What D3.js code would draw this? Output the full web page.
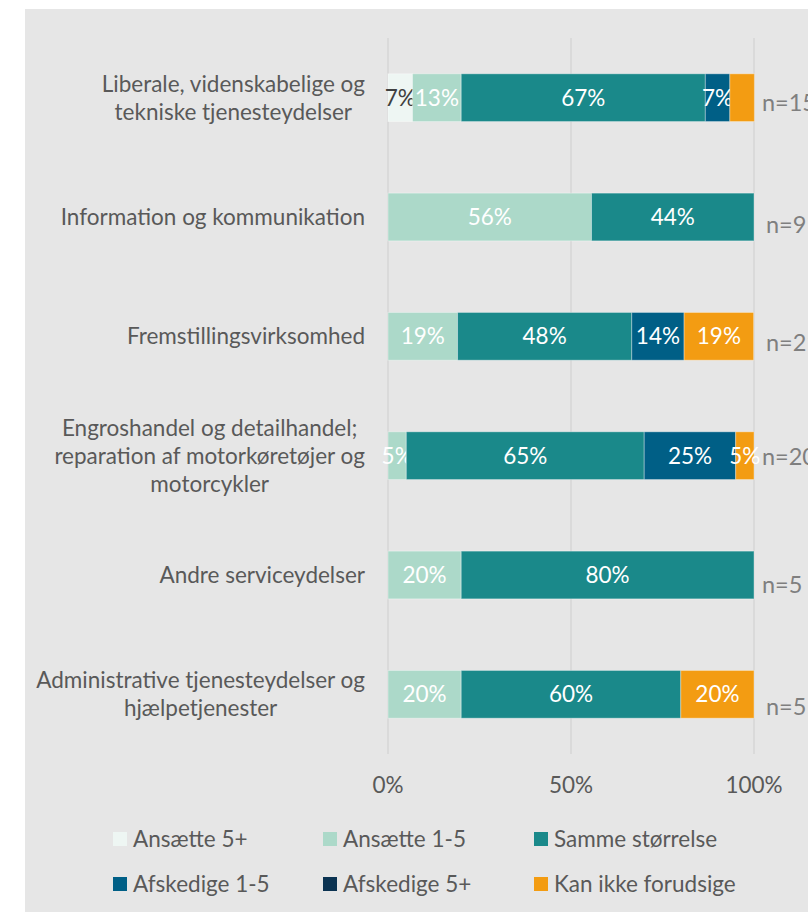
<!DOCTYPE html>
<html>
<head>
<meta charset="utf-8">
<script src="https://cdn.jsdelivr.net/npm/d3@7"></script>
<style>
  html, body { margin: 0; padding: 0; background: #ffffff; }
  svg { display: block; font-family: Lato, "Open Sans", sans-serif; }
</style>
</head>
<body>
<div id="chart"></div>
<script>
// categories (top to bottom), each split into its display lines
const categories = [
    ["Liberale, videnskabelige og", "tekniske tjenesteydelser"],
    ["Information og kommunikation"],
    ["Fremstillingsvirksomhed"],
    ["Engroshandel og detailhandel;", "reparation af motorkøretøjer og", "motorcykler"],
    ["Andre serviceydelser"],
    ["Administrative tjenesteydelser og", "hjælpetjenester"]
];
const nLabels = ["n=15", "n=9", "n=21", "n=20", "n=5", "n=5"];

const seriesNames = ["Ansætte 5+", "Ansætte 1-5", "Samme størrelse", "Afskedige 1-5", "Afskedige 5+", "Kan ikke forudsige"];
const seriesColors = ["#eef6f3", "#acd9c9", "#1a898a", "#005f86", "#0b3352", "#f39c12"];

// percent shares per series, one value per category
const ansaette5 = [6.7, 0, 0, 0, 0, 0];
const ansaette1_5 = [13.3, 55.6, 19.0, 5, 20, 20];
const samme = [66.7, 44.4, 47.6, 65, 80, 60];
const afskedige1_5 = [6.7, 0, 14.3, 25, 0, 0];
const afskedige5 = [0, 0, 0, 0, 0, 0];
const kanIkke = [6.7, 0, 19.0, 5, 0, 20];
const seriesValues = [ansaette5, ansaette1_5, samme, afskedige1_5, afskedige5, kanIkke];

const xTicks = [0, 50, 100];
// data labels that the original leaves out: [category index, series index]
const hiddenLabels = [[0, 5]];

// layout
const W = 808, H = 913;
const bg = {x: 25, y: 9, w: 783, h: 903};
const plot = {left: 388, right: 754, top: 38, bottom: 754};
const nDx = [8, 12, 12, 8, 8, 12];
const nDy = [5, 8, 6, 1, 10, 12];
const fontSize = 22.5;

const svg = d3.select("#chart").append("svg")
    .attr("width", W).attr("height", H);

svg.append("rect")
    .attr("x", bg.x).attr("y", bg.y)
    .attr("width", bg.w).attr("height", bg.h)
    .attr("fill", "#e6e6e6");

const x = d3.scaleLinear().domain([0, 100]).range([plot.left, plot.right]);
const y = d3.scaleBand()
    .domain(d3.range(categories.length))
    .range([plot.top, plot.bottom])
    .paddingInner(0.6)
    .paddingOuter(0.3);

// gridlines
svg.append("g").selectAll("line")
    .data(xTicks)
    .join("line")
    .attr("x1", d => x(d)).attr("x2", d => x(d))
    .attr("y1", plot.top).attr("y2", plot.bottom)
    .attr("stroke", "#d6d6d6")
    .attr("stroke-width", 1.5);

// stack
const rows = categories.map((c, i) => {
    let row = {idx: i};
    seriesNames.forEach((s, j) => row[s] = seriesValues[j][i]);
    return row;
});
const stacked = d3.stack().keys(seriesNames)(rows);

const layers = svg.append("g").selectAll("g")
    .data(stacked)
    .join("g")
    .attr("fill", (d, j) => seriesColors[j]);

layers.selectAll("rect")
    .data(d => d.filter(p => p[1] - p[0] > 0))
    .join("rect")
    .attr("x", p => x(p[0]))
    .attr("y", p => y(p.data.idx))
    .attr("width", p => x(p[1]) - x(p[0]))
    .attr("height", y.bandwidth())
    .attr("stroke", "rgba(255,255,255,0.35)")
    .attr("stroke-width", 1);

// data labels
const isHidden = (i, j) => hiddenLabels.some(h => h[0] === i && h[1] === j);
layers.each(function(layer, j) {
    d3.select(this).selectAll("text")
        .data(layer.filter(p => p[1] - p[0] > 0 && !isHidden(p.data.idx, j)))
        .join("text")
        .attr("x", p => x((p[0] + p[1]) / 2))
        .attr("y", p => y(p.data.idx) + y.bandwidth() / 2)
        .attr("dy", "0.35em")
        .attr("text-anchor", "middle")
        .attr("font-size", fontSize)
        .attr("fill", j === 0 ? "#404040" : "#ffffff")
        .text(p => Math.round(p[1] - p[0]) + "%");
});

// n labels (clipped at the right edge, as in the original)
svg.append("g").selectAll("text")
    .data(nLabels)
    .join("text")
    .attr("x", (d, i) => plot.right + nDx[i])
    .attr("y", (d, i) => y(i) + y.bandwidth() / 2 + nDy[i])
    .attr("dy", "0.35em")
    .attr("font-size", fontSize + 1)
    .attr("fill", "#7f7f7f")
    .text(d => d);

// category labels: lines centred on each other, block right-aligned
const lineH = 28;
const labelRight = 365;
categories.forEach((lines, i) => {
    const g = svg.append("g");
    const cy = y(i) + y.bandwidth() / 2;
    const t = g.selectAll("text")
        .data(lines)
        .join("text")
        .attr("y", (d, k) => cy + (k - (lines.length - 1) / 2) * lineH)
        .attr("dy", "0.35em")
        .attr("text-anchor", "middle")
        .attr("font-size", fontSize)
        .attr("fill", "#595959")
        .text(d => d);
    const maxW = d3.max(t.nodes(), n => n.getComputedTextLength());
    t.attr("x", labelRight - maxW / 2);
});

// x axis tick labels
svg.append("g").selectAll("text")
    .data(xTicks)
    .join("text")
    .attr("x", d => x(d))
    .attr("y", 793)
    .attr("text-anchor", "middle")
    .attr("font-size", fontSize)
    .attr("fill", "#595959")
    .text(d => d + "%");

// legend
const legCols = [113, 323, 534];
const legRows = [839, 884];
const legend = svg.append("g").selectAll("g")
    .data(seriesNames)
    .join("g")
    .attr("transform", (d, j) => `translate(${legCols[j % 3]},${legRows[Math.floor(j / 3)]})`);
legend.append("rect")
    .attr("x", 0).attr("y", -7)
    .attr("width", 14).attr("height", 14)
    .attr("fill", (d, j) => seriesColors[j]);
legend.append("text")
    .attr("x", 20)
    .attr("dy", "0.35em")
    .attr("font-size", fontSize)
    .attr("fill", "#595959")
    .text(d => d);
</script>
</body>
</html>
